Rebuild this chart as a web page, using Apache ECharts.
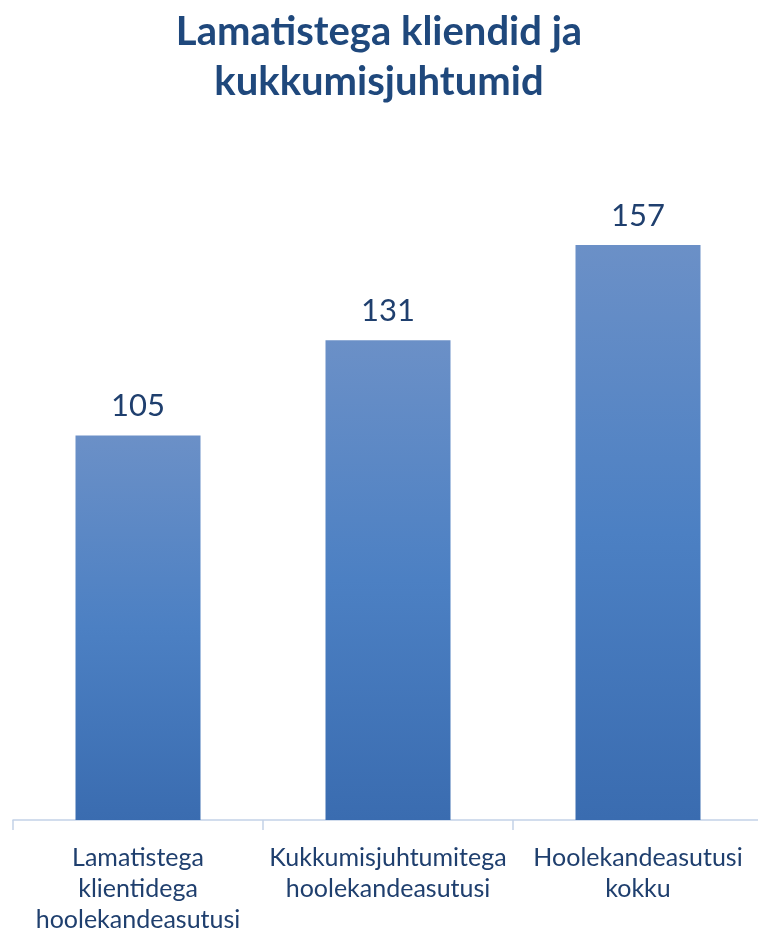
<!DOCTYPE html>
<html>
<head>
<meta charset="utf-8">
<script src="https://cdn.jsdelivr.net/npm/echarts@6/dist/echarts.min.js"></script>
<style>
  html, body { margin: 0; padding: 0; background: #fff; }
  #chart { width: 758px; height: 931px; }
</style>
</head>
<body>
<div id="chart"></div>
<script>
// kategooriad ja väärtused
const categories = [
  'Lamatistega\nklientidega\nhoolekandeasutusi',
  'Kukkumisjuhtumitega\nhoolekandeasutusi',
  'Hoolekandeasutusi\nkokku'
];
const values = [105, 131, 157];

const chart = echarts.init(document.getElementById('chart'));

const option = {
  animation: false,
  title: {
    text: 'Lamatistega kliendid ja\nkukkumisjuhtumid',
    left: 'center',
    top: 2,
    textStyle: {
      fontFamily: 'Lato',
      fontWeight: 'bold',
      fontSize: 40,
      lineHeight: 50,
      color: '#1F487C'
    }
  },
  grid: {
    left: 13,
    width: 750,
    top: 245,
    bottom: 111,
    outerBoundsMode: 'none',
    containLabel: false
  },
  xAxis: {
    type: 'category',
    data: categories,
    axisLine: { lineStyle: { color: '#C3D2E8', width: 1.5 } },
    axisTick: { show: true, length: 10, lineStyle: { color: '#C3D2E8', width: 1.5 } },
    axisLabel: {
      interval: 0,
      margin: 22,
      fontFamily: 'Lato',
      fontSize: 25,
      lineHeight: 31,
      color: '#1F3F6E'
    }
  },
  yAxis: {
    type: 'value',
    min: 0,
    max: 157,
    show: false,
    splitLine: { show: false }
  },
  series: [{
    type: 'bar',
    data: values,
    barWidth: 125,
    itemStyle: {
      color: new echarts.graphic.LinearGradient(0, 0, 0, 1, [
        { offset: 0, color: '#6B90C7' },
        { offset: 0.5, color: '#4C80C3' },
        { offset: 1, color: '#3A6CB0' }
      ])
    },
    label: {
      show: true,
      position: 'top',
      distance: 14,
      fontFamily: 'Lato',
      fontSize: 31,
      color: '#1F3F6E'
    }
  }]
};

chart.setOption(option);
</script>
</body>
</html>
